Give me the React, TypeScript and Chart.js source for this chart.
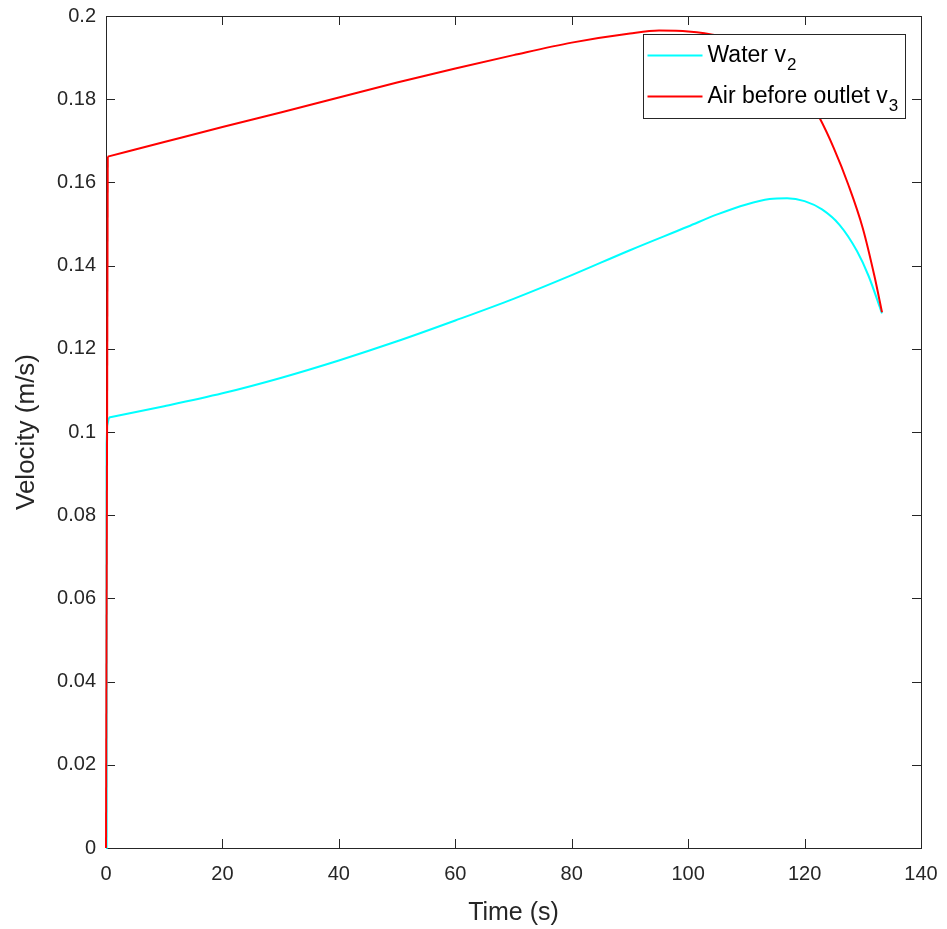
import React, { useEffect, useRef } from "react";
import { Chart, registerables } from "chart.js";

Chart.register(...registerables);

// initial jump at t≈0 (drawn as straight segments)
const waterRiseTime = [0, 0.1, 0.2, 0.5];
const waterRiseVel = [0, 0.097, 0.1015, 0.1035];
const airRiseTime = [0, 0.3];
const airRiseVel = [0, 0.1662];

// main curves
const waterTime = [0.5, 10, 20, 30, 40, 50, 60, 70, 80, 90, 100, 105, 110, 114, 117, 120, 123, 126, 129, 131, 133.3];
const waterVel = [0.1035, 0.1062, 0.1093, 0.113, 0.1172, 0.1218, 0.1268, 0.132, 0.1377, 0.1437, 0.1494, 0.1523, 0.1547, 0.156, 0.1562, 0.1555, 0.1535, 0.1498, 0.1435, 0.1375, 0.1285];

const airTime = [0.3, 10, 20, 30, 40, 50, 60, 70, 80, 90, 95, 100, 105, 110, 115, 117.5, 120, 122.5, 125, 127.5, 130, 132, 133.3];
const airVel = [0.1662, 0.1697, 0.1733, 0.1768, 0.1804, 0.184, 0.1874, 0.1906, 0.1936, 0.1958, 0.1965, 0.1963, 0.1953, 0.193, 0.1888, 0.1857, 0.1815, 0.1757, 0.1683, 0.1595, 0.149, 0.1375, 0.1288];

const seriesLabels = ["Water v", "Air before outlet v"];
const seriesSubs = ["2", "3"];
const seriesColors = ["#00FFFF", "#FF0000"];

const xTicks = [0, 20, 40, 60, 80, 100, 120, 140];
const yTicks = [0, 0.02, 0.04, 0.06, 0.08, 0.1, 0.12, 0.14, 0.16, 0.18, 0.2];

const FONT = "'Liberation Sans', Arial, Helvetica, sans-serif";

const boxPlugin = {
  id: "matlabBox",
  beforeDatasetsDraw(chart: any) {
    const { ctx, chartArea: a, scales } = chart;
    ctx.save();
    ctx.strokeStyle = "#262626";
    ctx.lineWidth = 1;
    ctx.beginPath();
    const tl = 9;
    xTicks.forEach((v) => {
      const x = Math.round(scales.x.getPixelForValue(v)) + 0.5;
      ctx.moveTo(x, a.bottom);
      ctx.lineTo(x, a.bottom - tl);
      ctx.moveTo(x, a.top);
      ctx.lineTo(x, a.top + tl);
    });
    yTicks.forEach((v) => {
      const y = Math.round(scales.y.getPixelForValue(v)) + 0.5;
      ctx.moveTo(a.left, y);
      ctx.lineTo(a.left + tl, y);
      ctx.moveTo(a.right, y);
      ctx.lineTo(a.right - tl, y);
    });
    ctx.stroke();
    ctx.strokeRect(Math.round(a.left) + 0.5, Math.round(a.top) + 0.5, Math.round(a.right - a.left), Math.round(a.bottom - a.top));
    ctx.restore();
  },
  afterDatasetsDraw(chart: any) {
    const { ctx } = chart;
    ctx.save();
    // legend (MATLAB-style, inside the axes, top-right)
    const lx = 643.5, ly = 34.5, lw = 262, lh = 84;
    ctx.fillStyle = "#ffffff";
    ctx.fillRect(lx, ly, lw, lh);
    ctx.strokeStyle = "#262626";
    ctx.lineWidth = 1;
    ctx.strokeRect(lx, ly, lw, lh);
    chart.data.datasets
      .filter((ds: any) => ds.legendIndex !== undefined)
      .sort((p: any, q: any) => p.legendIndex - q.legendIndex)
      .forEach((ds: any, i: number) => {
        const cy = ly + 21 + i * 41;
        ctx.strokeStyle = ds.borderColor;
        ctx.lineWidth = 2;
        ctx.beginPath();
        ctx.moveTo(lx + 4, cy);
        ctx.lineTo(lx + 59, cy);
        ctx.stroke();
        ctx.fillStyle = "#000000";
        ctx.font = `23px ${FONT}`;
        ctx.textBaseline = "middle";
        ctx.textAlign = "left";
        ctx.fillText(ds.label, lx + 64, cy);
        const w = ctx.measureText(ds.label).width;
        ctx.font = `17px ${FONT}`;
        ctx.fillText(seriesSubs[ds.legendIndex], lx + 64 + w + 1, cy + 10);
      });
    ctx.restore();
  },
};

export default function App() {
  const ref = useRef<HTMLCanvasElement>(null);
  useEffect(() => {
    document.body.style.margin = "0";
    const canvas = ref.current!;
    const common = { showLine: true, pointRadius: 0, borderWidth: 2 };
    const chart = new Chart(canvas, {
      type: "scatter",
      data: {
        datasets: [
          {
            ...common,
            label: seriesLabels[0],
            legendIndex: 0,
            order: 2,
            data: waterTime.map((t, i) => ({ x: t, y: waterVel[i] })),
            borderColor: seriesColors[0],
            cubicInterpolationMode: "monotone",
          },
          {
            ...common,
            label: seriesLabels[0] + " rise",
            order: 2,
            data: waterRiseTime.map((t, i) => ({ x: t, y: waterRiseVel[i] })),
            borderColor: seriesColors[0],
            tension: 0,
          },
          {
            ...common,
            label: seriesLabels[1],
            legendIndex: 1,
            order: 1,
            data: airTime.map((t, i) => ({ x: t, y: airVel[i] })),
            borderColor: seriesColors[1],
            cubicInterpolationMode: "monotone",
          },
          {
            ...common,
            label: seriesLabels[1] + " rise",
            order: 1,
            data: airRiseTime.map((t, i) => ({ x: t, y: airRiseVel[i] })),
            borderColor: seriesColors[1],
            tension: 0,
          },
        ],
      },
      options: {
        animation: false,
        responsive: false,
        devicePixelRatio: 1,
        clip: false,
        layout: { padding: { top: 16, right: 26, left: 0, bottom: 0 } },
        plugins: { legend: { display: false }, tooltip: { enabled: false } },
        scales: {
          x: {
            type: "linear",
            min: 0,
            max: 140,
            afterBuildTicks: (s: any) => {
              s.ticks = xTicks.map((v) => ({ value: v }));
            },
            afterFit: (s: any) => {
              s.height = 81;
              s.paddingLeft = 0;
              s.paddingRight = 0;
            },
            grid: { display: false, drawTicks: false },
            border: { display: false },
            ticks: {
              padding: 14,
              color: "#262626",
              font: { family: FONT, size: 20 },
              maxRotation: 0,
            },
            title: {
              display: true,
              text: "Time (s)",
              color: "#262626",
              font: { family: FONT, size: 25 },
              padding: { top: 0, bottom: 1 },
            },
          },
          y: {
            type: "linear",
            min: 0,
            max: 0.2,
            afterBuildTicks: (s: any) => {
              s.ticks = yTicks.map((v) => ({ value: v }));
            },
            afterFit: (s: any) => {
              s.width = 106;
              s.paddingTop = 0;
              s.paddingBottom = 0;
            },
            grid: { display: false, drawTicks: false },
            border: { display: false },
            ticks: {
              padding: 10,
              color: "#262626",
              font: { family: FONT, size: 20 },
              callback: (v: any) => String(Number(Number(v).toFixed(2))),
            },
            title: {
              display: true,
              text: "Velocity (m/s)",
              color: "#262626",
              font: { family: FONT, size: 26 },
              padding: { top: 11, bottom: 0 },
            },
          },
        },
      },
      plugins: [boxPlugin],
    } as any);
    return () => chart.destroy();
  }, []);
  return (
    <div style={{ width: 947, height: 929, background: "#fff" }}>
      <canvas ref={ref} width={947} height={929} style={{ display: "block" }} />
    </div>
  );
}
